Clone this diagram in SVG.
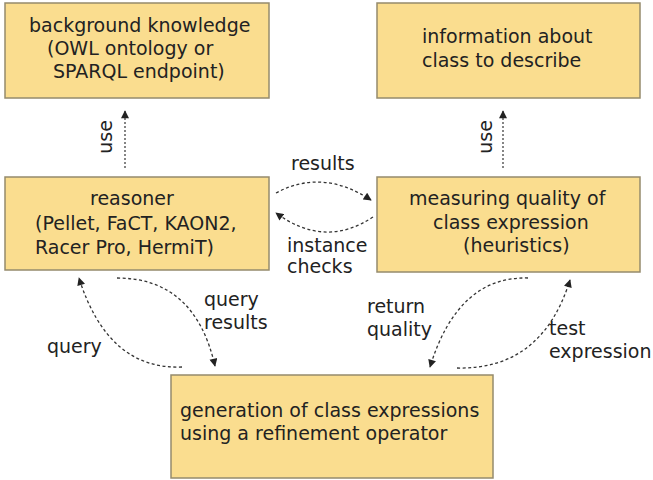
<svg xmlns="http://www.w3.org/2000/svg" width="653" height="480" viewBox="0 0 653 480">
<defs>
<style>
.box{fill:#fadd8f;stroke:#958b6c;stroke-width:1.5}
.t{font-family:"DejaVu Sans",Verdana,sans-serif;font-size:19px;fill:#222}
.c{fill:none;stroke:#333;stroke-width:1.3;stroke-dasharray:3 2.5}
.d{fill:none;stroke:#444;stroke-width:1.3;stroke-dasharray:2 2}
</style>
<marker id="ah" viewBox="0 0 10 10" refX="9" refY="5" markerWidth="9" markerHeight="8" markerUnits="userSpaceOnUse" orient="auto">
<path d="M0,0 L10,5 L0,10 z" fill="#222"/>
</marker>
</defs>
<rect width="653" height="480" fill="#fff"/>
<g id="background">
<rect class="box" x="5" y="3" width="264" height="95"/>
<text class="t" x="29" y="32">background knowledge</text>
<text class="t" x="47" y="55">(OWL ontology or</text>
<text class="t" x="53" y="78">SPARQL endpoint)</text>
</g>
<g id="information">
<rect class="box" x="377" y="3" width="263" height="95"/>
<text class="t" x="422" y="43">information about</text>
<text class="t" x="422" y="67">class to describe</text>
</g>
<g id="reasoner">
<rect class="box" x="5" y="177" width="264" height="93"/>
<text class="t" x="90" y="205">reasoner</text>
<text class="t" x="35" y="230">(Pellet, FaCT, KAON2,</text>
<text class="t" x="35" y="254">Racer Pro, HermiT)</text>
</g>
<g id="measuring">
<rect class="box" x="377" y="177" width="263" height="95"/>
<text class="t" x="409" y="205">measuring quality of</text>
<text class="t" x="433" y="229">class expression</text>
<text class="t" x="463" y="252">(heuristics)</text>
</g>
<g id="generation">
<rect class="box" x="171" y="375" width="322" height="103"/>
<text class="t" x="180" y="417">generation of class expressions</text>
<text class="t" x="180" y="440">using a refinement operator</text>
</g>
<g id="connectors">
<path class="d" d="M125,168 L125,111" marker-end="url(#ah)"/>
<path class="d" d="M503,168 L503,111" marker-end="url(#ah)"/>
<path class="c" d="M276,193 Q322,168 371,200" marker-end="url(#ah)"/>
<path class="c" d="M373,217 Q325,249 276,213" marker-end="url(#ah)"/>
<path class="c" d="M117,278 Q195,278 215,366" marker-end="url(#ah)"/>
<path class="c" d="M182,367 Q108,370 79,278" marker-end="url(#ah)"/>
<path class="c" d="M528,278 Q458,276 430,367" marker-end="url(#ah)"/>
<path class="c" d="M457,368 Q542,370 570,280" marker-end="url(#ah)"/>
</g>
<g id="labels">
<text class="t" transform="translate(112,137) rotate(-90)" text-anchor="middle">use</text>
<text class="t" transform="translate(492,137) rotate(-90)" text-anchor="middle">use</text>
<text class="t" x="291" y="170">results</text>
<text class="t" x="287" y="252">instance</text>
<text class="t" x="287" y="273">checks</text>
<text class="t" x="204" y="306">query</text>
<text class="t" x="204" y="329">results</text>
<text class="t" x="47" y="353">query</text>
<text class="t" x="367" y="313">return</text>
<text class="t" x="367" y="336">quality</text>
<text class="t" x="549" y="335">test</text>
<text class="t" x="549" y="358">expression</text>
</g>
</svg>
